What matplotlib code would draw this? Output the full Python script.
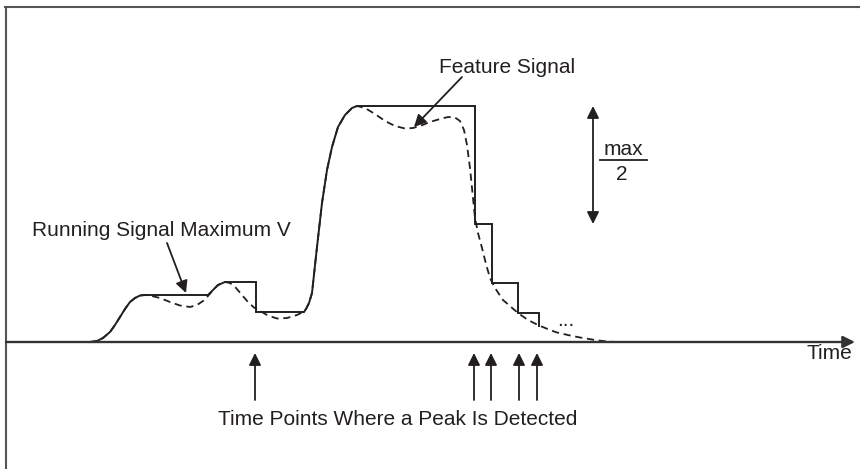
import matplotlib
matplotlib.use("Agg")
import matplotlib.pyplot as plt

plt.rcParams['font.family'] = ['Liberation Sans', 'DejaVu Sans']

BASE = 342  # pixel row of the time axis; levels are measured upward from it

# Feature signal (dashed): time, pixel row
signal_t = [90, 97, 103, 110, 115, 120, 125, 130, 135, 140, 145, 150, 160, 170, 180, 190, 197, 203,
            208, 213, 218, 225, 230, 236, 242, 248, 254, 260, 268, 277, 287, 297, 303, 306, 309, 312,
            314.5, 317, 319.5, 322, 327, 332, 338, 345, 352, 357, 365, 375, 385, 395, 405, 413, 420,
            430, 440, 448, 455, 460, 464, 467, 470, 473, 475, 478, 482, 486, 490, 495, 503, 518, 528,
            538, 550, 557, 570, 580, 595, 607, 615]
signal_y = [342, 341, 338, 332, 325, 317, 309, 302, 298, 295.5, 295, 295.5, 298, 302, 305.5, 307, 305, 301,
            296, 290, 285, 282, 283, 288, 295, 302, 307.5, 311, 315.5, 318.5, 318, 315, 312, 309, 303, 293,
            270, 247, 225, 203, 170, 147, 127, 115, 108, 106, 108, 114, 121, 126, 128.5, 128, 126,
            122, 119, 117, 117.5, 121, 130, 145, 168, 198, 218, 233, 248, 264, 278, 288, 300, 313, 320,
            325, 330, 332.5, 335.5, 337.5, 340, 341.5, 342]
signal_level = [BASE - y for y in signal_y]

# Running signal maximum V (solid)
maxv_t = [90, 97, 103, 110, 115, 120, 125, 130, 135, 140, 145, 208, 213, 218, 225, 256, 256, 304, 306,
          309, 312, 314.5, 317, 319.5, 322, 327, 332, 338, 345, 352, 357, 475, 475, 492, 492, 518, 518,
          539, 539]
maxv_y = [342, 341, 338, 332, 325, 317, 309, 302, 298, 295.5, 295, 295, 290, 285, 282, 282, 312, 312, 309,
          303, 293, 270, 247, 225, 203, 170, 147, 127, 115, 108, 106, 106, 224, 224, 283, 283, 313,
          313, 326]
maxv_level = [BASE - y for y in maxv_y]

# Time points where a peak is detected
peak_times = [255, 474, 491, 519, 537]

labels = {
    'feature': 'Feature Signal',
    'running': 'Running Signal Maximum V',
    'peaks': 'Time Points Where a Peak Is Detected',
    'time': 'Time',
}

W, H = 860, 469
fig = plt.figure(figsize=(W / 100, H / 100), dpi=100)
ax = fig.add_axes([0, 0, 1, 1])
ax.set_xlim(0, W)
ax.set_ylim(BASE - H, BASE)
ax.axis('off')

ink = '#231f20'

def L(y):
    return BASE - y

# frame (top and left)
ax.plot([4, W], [L(7), L(7)], color='#555555', lw=1.5, solid_capstyle='butt')
ax.plot([6, 6], [L(7), L(H)], color='#555555', lw=1.5, solid_capstyle='butt')

head = '-|>,head_length=0.36,head_width=0.18'

# time axis
ax.annotate('', xy=(855, 0), xytext=(6, 0),
            arrowprops=dict(arrowstyle=head, color='#333333',
                            lw=1.7, shrinkA=0, shrinkB=0, mutation_scale=20))
ax.text(852, L(359), labels['time'], ha='right', va='baseline', fontsize=15, color=ink)

# curves
ax.plot(signal_t, signal_level, color=ink, lw=1.3, linestyle=(0, (4, 2.6)))
ax.plot(maxv_t, maxv_level, color=ink, lw=1.4, solid_joinstyle='miter')

arrow_kw = dict(arrowstyle=head, color=ink, lw=1.3,
                shrinkA=0, shrinkB=0, mutation_scale=20)

# labels with pointers
ax.text(507, L(73), labels['feature'], ha='center', va='baseline', fontsize=15, color=ink)
ax.annotate('', xy=(414, L(127)), xytext=(462, L(77)), arrowprops=arrow_kw)

ax.text(32, L(236), labels['running'], ha='left', va='baseline', fontsize=15, color=ink)
ax.annotate('', xy=(186, L(293)), xytext=(167, L(243)), arrowprops=arrow_kw)

# max/2 double arrow
ax.annotate('', xy=(593, L(106)), xytext=(593, L(224)),
            arrowprops=dict(arrowstyle='<|-|>,head_length=0.36,head_width=0.18', color=ink, lw=1.3,
                            shrinkA=0, shrinkB=0, mutation_scale=20))
ax.text(623, L(155), 'max', ha='center', va='baseline', fontsize=15, color=ink)
ax.plot([600, 647], [L(160), L(160)], color=ink, lw=1.3)
ax.text(622, L(180), '2', ha='center', va='baseline', fontsize=15, color=ink)

# ellipsis
ax.text(566, L(326), '...', ha='center', va='baseline', fontsize=15, color=ink)

# peak arrows
for t in peak_times:
    ax.annotate('', xy=(t, L(353)), xytext=(t, L(400)), arrowprops=arrow_kw)
ax.text(218, L(425), labels['peaks'], ha='left', va='baseline', fontsize=15, color=ink)

fig.savefig('out.png', dpi=100)
